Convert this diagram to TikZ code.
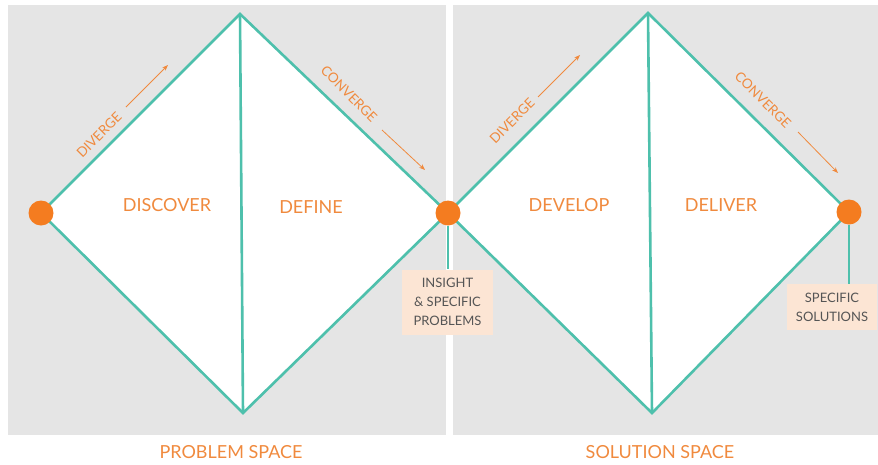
\documentclass[tikz,border=0pt]{standalone}
\usepackage{fontspec}
\setmainfont{Lato}
\usetikzlibrary{arrows.meta}

\definecolor{ddteal}{RGB}{78,192,172}
\definecolor{ddorange}{RGB}{244,124,32}
\definecolor{ddlabel}{RGB}{240,138,62}
\definecolor{ddpanel}{RGB}{229,229,229}
\definecolor{ddpeach}{RGB}{252,229,212}
\definecolor{ddtext}{RGB}{85,85,85}

\tikzset{
  edge/.style={draw=ddteal, line width=2.6pt, line join=miter},
  dot/.style={circle, fill=ddorange, minimum size=25pt, inner sep=0pt},
  phase/.style={text=ddlabel, font=\fontsize{18}{21}\selectfont},
  way/.style={text=ddlabel, font=\fontsize{13.5}{16}\selectfont},
  flow/.style={draw=ddlabel, line width=.8pt, -{Stealth[length=6pt,width=4.5pt]}},
  result/.style={fill=ddpeach, text=ddtext, align=center, inner sep=0pt,
    font=\fontsize{13}{19}\selectfont}
}

\begin{document}
\begin{tikzpicture}[x=1pt,y=-1pt]
\useasboundingbox (0,0) rectangle (878,464);
% grey panels
\fill[ddpanel] (8,5) rectangle (446,435);
\fill[ddpanel] (453,5) rectangle (878,435);

% corners of the two diamonds
\coordinate (p0) at (41,213);
\coordinate (p1) at (448,213);
\coordinate (p2) at (849,212);
\coordinate (t1) at (240,14);
\coordinate (b1) at (243,413);
\coordinate (t2) at (648,13);
\coordinate (b2) at (652,413);

% problem space
\fill[white] (p0) -- (t1) -- (p1) -- (b1) -- cycle;
\draw[edge] (p0) -- (t1) -- (p1) -- (b1) -- cycle;
\draw[edge] (t1) -- (b1);

% solution space
\fill[white] (p1) -- (t2) -- (p2) -- (b2) -- cycle;
\draw[edge] (p1) -- (t2) -- (p2) -- (b2) -- cycle;
\draw[edge] (t2) -- (b2);

% outcomes
\node[result, minimum width=91pt, minimum height=65pt] (insight) at (447.5,302)
  {INSIGHT\\\& SPECIFIC\\PROBLEMS};
\node[result, minimum width=90pt, minimum height=46pt] (solutions) at (832,307)
  {SPECIFIC\\SOLUTIONS};

\node[dot] (d0) at (p0) {};
\node[dot] (d1) at (p1) {};
\node[dot] (d2) at (p2) {};
\draw[edge] (d1) -- (d1 |- insight.north);
\draw[edge] (d2) -- (d2 |- solutions.north);

% phases
\node[phase] (discover) at (167,205) {DISCOVER};
\node[phase] (define) at (311,207) {DEFINE};
\node[phase] (develop) at (569,205) {DEVELOP};
\node[phase] (deliver) at (721,205) {DELIVER};

% diverge / converge
\node[way, rotate=45] (div1) at (99,135) {DIVERGE};
\node[way, rotate=-45] (conv1) at (349,94) {CONVERGE};
\node[way, rotate=45] (div2) at (512,121) {DIVERGE};
\node[way, rotate=-45] (conv2) at (763,100) {CONVERGE};
\draw[flow] (126,107) -- (168,65);
\draw[flow] (382,130) -- (425,170);
\draw[flow] (538,97) -- (580,55);
\draw[flow] (798,132) -- (838,173);

% spaces
\node[phase] (problem) at (231,452) {PROBLEM SPACE};
\node[phase] (solution) at (660,452) {SOLUTION SPACE};
\end{tikzpicture}
\end{document}
